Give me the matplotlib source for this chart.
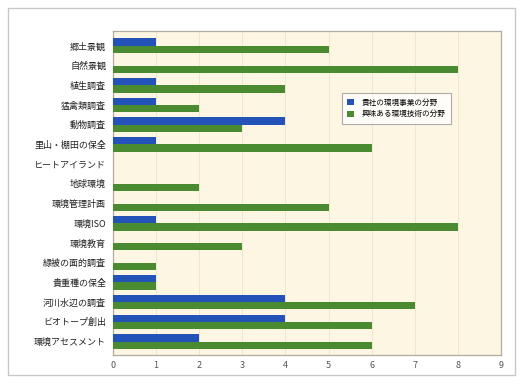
import matplotlib
matplotlib.use("Agg")
import matplotlib.pyplot as plt
import numpy as np
from matplotlib.patches import Rectangle

plt.rcParams['font.family'] = ['Noto Sans CJK JP', 'DejaVu Sans']

categories = [
    "郷土景観", "自然景観", "植生調査", "猛禽類調査", "動物調査",
    "里山・棚田の保全", "ヒートアイランド", "地球環境", "環境管理計画",
    "環境ISO", "環境教育", "緑被の面的調査", "貴重種の保全",
    "河川水辺の調査", "ビオトープ創出", "環境アセスメント",
]
business = [1, 0, 1, 1, 4, 1, 0, 0, 0, 1, 0, 0, 1, 4, 4, 2]
interest = [5, 8, 4, 2, 3, 6, 0, 2, 5, 8, 3, 1, 1, 7, 6, 6]
series_labels = ["貴社の環境事業の分野", "興味ある環境技術の分野"]
xticks = list(range(0, 10))

fig = plt.figure(figsize=(5.26, 3.87), dpi=100)
fig.patch.set_facecolor("white")
fig.patches.append(Rectangle((8 / 526, 12 / 387), 507 / 526, 367 / 387,
                             transform=fig.transFigure, fill=False,
                             edgecolor="#c8c8c8", linewidth=1.0))

ax = fig.add_axes([113 / 526, 32 / 387, 388 / 526, 324 / 387])
ax.set_facecolor("#fdf6e2")

y = np.arange(len(categories))
h = 0.37
ax.barh(y - h / 2, business, height=h, color="#2352b8", label=series_labels[0], zorder=3)
ax.barh(y + h / 2, interest, height=h, color="#4a8b32", label=series_labels[1], zorder=3)

ax.set_yticks(y)
ax.set_yticklabels(categories, fontsize=6.5, color="#222222")
ax.set_ylim(len(categories) - 1 + 0.68, -0.75)
ax.set_xlim(0, 9)
ax.set_xticks(xticks)
ax.set_xticklabels([str(t) for t in xticks], fontsize=6.5, color="#555555")
ax.tick_params(axis="both", length=0, pad=5)
ax.tick_params(axis="x", pad=4)
ax.grid(axis="x", color="#ece3cc", linewidth=0.6, zorder=0)

for s in ax.spines.values():
    s.set_color("#b0aca0")
    s.set_linewidth(0.9)

leg = ax.legend(loc="upper left", bbox_to_anchor=(0.58, 0.82), fontsize=5.5,
                frameon=True, fancybox=False, edgecolor="#999999",
                handlelength=0.9, handleheight=0.9, borderpad=0.7,
                labelspacing=0.5, handletextpad=1.0)
leg.get_frame().set_linewidth(0.8)
leg.get_frame().set_facecolor("white")

fig.savefig("out.png", dpi=100)
